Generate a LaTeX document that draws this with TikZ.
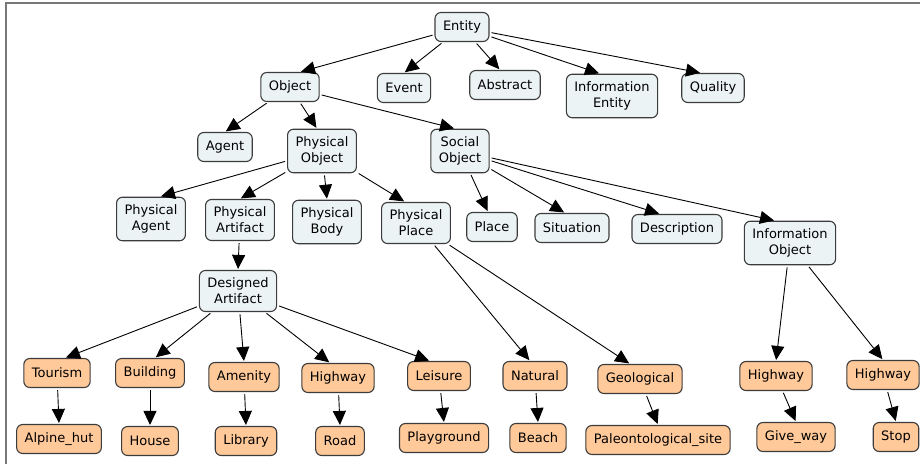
\documentclass[tikz,border=0pt]{standalone}
\usepackage{fontspec}
\setmainfont{DejaVu Sans}
\usetikzlibrary{arrows.meta}
\definecolor{lightbox}{RGB}{236,243,245}
\definecolor{peach}{RGB}{255,201,153}
\definecolor{boxline}{RGB}{60,60,60}
\definecolor{framegray}{RGB}{120,120,120}
\begin{document}
\begin{tikzpicture}[x=1pt,y=-1pt,
  concept/.style={draw=boxline,line width=1.1pt,rounded corners=6pt,align=center,
    font=\fontsize{13}{16}\selectfont,inner xsep=8pt,inner ysep=7.5pt,minimum height=29pt},
  lightc/.style={concept,fill=lightbox},
  orangec/.style={concept,fill=peach},
  link/.style={draw=black,line width=0.9pt,shorten <=2pt,shorten >=1pt,
    -{Triangle[length=14pt,width=13pt]}}]
\useasboundingbox (0,0) rectangle (920,464);
\fill[white] (0,0) rectangle (920,464);
\draw[framegray,line width=1.8pt] (920,3) -- (6,3) -- (6,464);
% level 0-1
\node[lightc] (entity) at (462,27) {Entity};
\node[lightc] (object) at (290,87) {Object};
\node[lightc] (event) at (404,88) {Event};
\node[lightc] (abstract) at (505,85) {Abstract};
\node[lightc] (infoent) at (612,96) {Information\\Entity};
\node[lightc] (quality) at (713,88) {Quality};
% level 2
\node[lightc] (agent) at (225,147) {Agent};
\node[lightc] (physobj) at (322,151) {Physical\\Object};
\node[lightc] (socobj) at (460,151) {Social\\Object};
% level 3
\node[lightc] (physagent) at (151,219) {Physical\\Agent};
\node[lightc] (physart) at (240,220) {Physical\\Artifact};
\node[lightc] (physbody) at (327,222) {Physical\\Body};
\node[lightc] (physplace) at (416,223) {Physical\\Place};
\node[lightc] (place) at (492,227) {Place};
\node[lightc] (situation) at (572,228) {Situation};
\node[lightc] (description) at (677,229) {Description};
\node[lightc] (infoobj) at (790,243) {Information\\Object};
\node[lightc] (designed) at (238,291) {Designed\\Artifact};
% orange row 1
\node[orangec] (tourism) at (57,373) {Tourism};
\node[orangec] (building) at (150,373) {Building};
\node[orangec] (amenity) at (244,377) {Amenity};
\node[orangec] (highwayA) at (338,378) {Highway};
\node[orangec] (leisure) at (439,376) {Leisure};
\node[orangec] (natural) at (535,376) {Natural};
\node[orangec] (geological) at (640,379) {Geological};
\node[orangec] (highwayB) at (776,376) {Highway};
\node[orangec] (highwayC) at (883,375) {Highway};
% orange row 2
\node[orangec] (alpine) at (59,439) {Alpine\_hut};
\node[orangec] (house) at (150,441) {House};
\node[orangec] (library) at (246,441) {Library};
\node[orangec] (road) at (340,441) {Road};
\node[orangec] (playground) at (444,438) {Playground};
\node[orangec] (beach) at (538,438) {Beach};
\node[orangec] (paleo) at (658,440) {Paleontological\_site};
\node[orangec] (giveway) at (796,437) {Give\_way};
\node[orangec] (stop) at (896,437) {Stop};
% links (target point given as shift from the child's north anchor)
\foreach \a/\b/\s in {entity/object/10,entity/event/0,entity/abstract/-5,entity/infoent/-12,entity/quality/-12,
  object/agent/0,object/physobj/-5,object/socobj/-5,
  physobj/physagent/9,physobj/physart/0,physobj/physbody/0,physobj/physplace/-11,
  socobj/place/-4,socobj/situation/-7,socobj/description/-17,socobj/infoobj/-15,
  physart/designed/0,
  designed/tourism/8,designed/building/5,designed/amenity/0,designed/highwayA/-8,designed/leisure/-9,
  physplace/natural/-5,physplace/geological/-10,
  infoobj/highwayB/0,infoobj/highwayC/0,
  tourism/alpine/0,building/house/0,amenity/library/0,highwayA/road/0,leisure/playground/0,
  natural/beach/0,geological/paleo/0,highwayB/giveway/0,highwayC/stop/0}
  \draw[link] (\a) -- ([xshift=\s pt]\b.north);
\end{tikzpicture}
\end{document}
